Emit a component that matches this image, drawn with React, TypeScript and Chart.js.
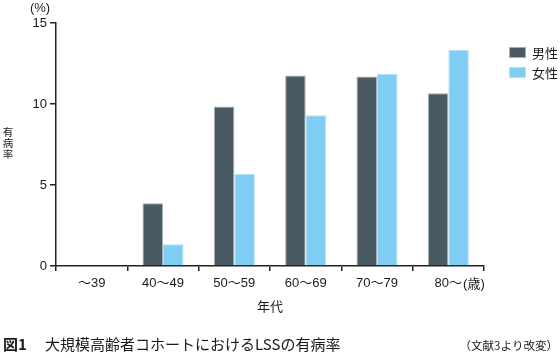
import React, { useEffect, useRef } from "react";
import { Chart, registerables } from "chart.js";

Chart.register(...registerables);

const categories = ["～39", "40～49", "50～59", "60～69", "70～79", "80～"];
const maleValues = [0, 3.87, 9.85, 11.76, 11.7, 10.67];
const femaleValues = [0, 1.34, 5.69, 9.31, 11.87, 13.33];
const seriesLabels = ["男性", "女性"];
const yTicks = [0, 5, 10, 15];

const SANS = '"Liberation Sans", "Noto Sans CJK JP", sans-serif';
const CJK = '"Noto Sans CJK JP", sans-serif';
const TEXT = "#1a1a1a";

const extrasPlugin = {
  id: "extras",
  afterDraw(chart: any) {
    const ctx = chart.ctx;
    ctx.save();
    ctx.fillStyle = TEXT;
    // (%) unit
    ctx.font = `13px ${SANS}`;
    ctx.textAlign = "center";
    ctx.textBaseline = "middle";
    ctx.fillText("(%)", 40, 8);
    // vertical y title
    ctx.font = `10.5px ${CJK}`;
    const ys = ["有", "病", "率"];
    ys.forEach((c, i) => ctx.fillText(c, 8, 132 + i * 11));
    // (歳) after last tick
    const xs = chart.scales.x;
    ctx.font = `13px ${SANS}`;
    const last = categories.length - 1;
    const lx = xs.getPixelForTick(last) + ctx.measureText(categories[last]).width / 2;
    ctx.textAlign = "left";
    ctx.fillText("(歳)", lx + 1, 284);
    // custom legend
    chart.data.datasets.forEach((ds: any, i: number) => {
      const y = 47 + i * 20;
      ctx.fillStyle = ds.backgroundColor;
      ctx.fillRect(509, y, 17, 11);
      ctx.strokeStyle = ds.borderColor;
      ctx.lineWidth = 1;
      ctx.strokeRect(509.5, y + 0.5, 16, 10);
      ctx.fillStyle = TEXT;
      ctx.font = `13px ${CJK}`;
      ctx.textAlign = "left";
      ctx.fillText(ds.label, 532, y + 6);
    });
    // caption
    ctx.font = `bold 15px ${CJK}`;
    ctx.textAlign = "left";
    ctx.fillText("図1", 3, 344);
    ctx.font = `15px ${CJK}`;
    ctx.fillText("大規模高齢者コホートにおけるLSSの有病率", 45, 344);
    ctx.font = `11.5px ${CJK}`;
    ctx.textAlign = "right";
    ctx.fillText("（文献3より改変）", 558, 346);
    ctx.restore();
  },
};

export default function App() {
  const ref = useRef<HTMLCanvasElement | null>(null);
  useEffect(() => {
    if (!ref.current) return;
    const chart = new Chart(ref.current, {
      type: "bar",
      data: {
        labels: categories,
        datasets: [
          {
            label: seriesLabels[0],
            data: maleValues,
            backgroundColor: "#4a5a62",
            borderColor: "#a7aeb2",
            borderWidth: 1,
          },
          {
            label: seriesLabels[1],
            data: femaleValues,
            backgroundColor: "#80cdf4",
            borderColor: "#b3e0f8",
            borderWidth: 1,
          },
        ],
      },
      options: {
        responsive: false,
        animation: false,
        devicePixelRatio: 1,
        layout: { padding: { left: 0, top: 23, right: 76, bottom: 0 } },
        categoryPercentage: 0.575,
        barPercentage: 1,
        plugins: {
          legend: { display: false },
          tooltip: { enabled: false },
        },
        scales: {
          x: {
            grid: {
              display: true,
              drawOnChartArea: false,
              drawTicks: true,
              tickLength: 5,
              color: "#222",
              lineWidth: 1.5,
              offset: true,
            },
            border: { display: true, color: "#222", width: 1.5 },
            ticks: {
              color: TEXT,
              font: { family: SANS, size: 13 },
              padding: 5,
              maxRotation: 0,
              autoSkip: false,
            },
            title: {
              display: true,
              text: "年代",
              color: TEXT,
              font: { family: CJK, size: 13 },
              padding: { top: 0, bottom: 44 },
            },
            afterFit: (s: any) => {
              s.height = 92;
            },
          },
          y: {
            min: 0,
            max: 15,
            afterBuildTicks: (s: any) => {
              s.ticks = yTicks.map((v) => ({ value: v }));
            },
            grid: {
              display: true,
              drawOnChartArea: false,
              drawTicks: true,
              tickLength: 6,
              color: "#222",
              lineWidth: 1.5,
            },
            border: { display: true, color: "#222", width: 1.5 },
            ticks: {
              color: TEXT,
              font: { family: SANS, size: 13 },
              padding: 3,
            },
            afterFit: (s: any) => {
              s.width = 56;
            },
          },
        },
      },
      plugins: [extrasPlugin],
    });
    return () => chart.destroy();
  }, []);
  return (
    <div style={{ position: "absolute", left: 0, top: 0, width: 560, height: 358, background: "#fff" }}>
      <canvas ref={ref} width={560} height={358} />
    </div>
  );
}
